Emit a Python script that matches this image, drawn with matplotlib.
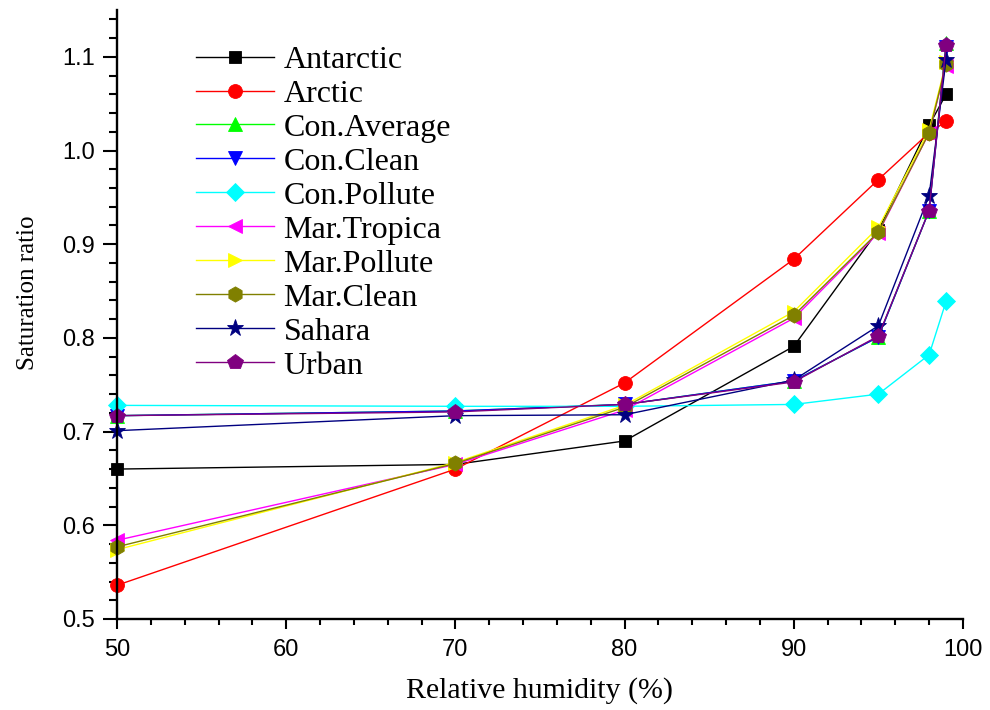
#!/usr/bin/env python
from __future__ import annotations

from pathlib import Path

import matplotlib

matplotlib.use("Agg")
import matplotlib.pyplot as plt
from matplotlib.ticker import FormatStrFormatter, MultipleLocator

# relative humidity (%) sampled for every aerosol type
HUMIDITY = [50, 70, 80, 90, 95, 98, 99]

ANTARCTIC = [0.660, 0.665, 0.690, 0.791, 0.915, 1.027, 1.060]
ARCTIC = [0.536, 0.660, 0.752, 0.884, 0.969, 1.019, 1.031]
CON_AVERAGE = [0.717, 0.722, 0.729, 0.754, 0.801, 0.936, 1.115]
CON_CLEAN = [0.717, 0.722, 0.729, 0.754, 0.801, 0.936, 1.111]
CON_POLLUTE = [0.728, 0.727, 0.727, 0.729, 0.740, 0.782, 0.839]
MAR_TROPICA = [0.584, 0.665, 0.723, 0.821, 0.912, 1.019, 1.090]
MAR_POLLUTE = [0.574, 0.667, 0.728, 0.828, 0.918, 1.022, 1.094]
MAR_CLEAN = [0.577, 0.666, 0.726, 0.824, 0.913, 1.019, 1.092]
SAHARA = [0.701, 0.717, 0.718, 0.755, 0.813, 0.952, 1.097]
URBAN = [0.717, 0.721, 0.729, 0.753, 0.802, 0.936, 1.113]

SERIES_NAMES = [
    "Antarctic",
    "Arctic",
    "Con.Average",
    "Con.Clean",
    "Con.Pollute",
    "Mar.Tropica",
    "Mar.Pollute",
    "Mar.Clean",
    "Sahara",
    "Urban",
]
SERIES_VALUES = [
    ANTARCTIC,
    ARCTIC,
    CON_AVERAGE,
    CON_CLEAN,
    CON_POLLUTE,
    MAR_TROPICA,
    MAR_POLLUTE,
    MAR_CLEAN,
    SAHARA,
    URBAN,
]

# (colour, marker, markersize) per series, Origin-like defaults
STYLES = [
    ("#000000", "s", 8.5),
    ("#ff0000", "o", 10.0),
    ("#00ff00", "^", 10.5),
    ("#0000ff", "v", 10.5),
    ("#00ffff", "D", 9.0),
    ("#ff00ff", "<", 10.5),
    ("#ffff00", ">", 10.5),
    ("#808000", "h", 11.0),
    ("#000080", "*", 12.5),
    ("#800080", "p", 11.5),
]

SERIF = ["Liberation Serif", "DejaVu Serif"]
SANS = ["Liberation Sans", "DejaVu Sans"]


def main() -> int:
    fig = plt.figure(figsize=(9.9, 7.1), dpi=100)
    ax = fig.add_axes([0.1182, 0.1282, 0.8545, 0.8577])

    for name, values, (color, marker, size) in zip(SERIES_NAMES, SERIES_VALUES, STYLES):
        ax.plot(
            HUMIDITY,
            values,
            color=color,
            linewidth=1.0,
            marker=marker,
            markersize=size,
            markerfacecolor=color,
            markeredgecolor=color,
            markeredgewidth=0.6,
            label=name,
            clip_on=False,
        )

    ax.set_xlim(50, 100)
    ax.set_ylim(0.5, 1.15)
    ax.xaxis.set_major_locator(MultipleLocator(10))
    ax.xaxis.set_minor_locator(MultipleLocator(2))
    ax.yaxis.set_major_locator(MultipleLocator(0.1))
    ax.yaxis.set_minor_locator(MultipleLocator(0.02))
    ax.yaxis.set_major_formatter(FormatStrFormatter("%.1f"))

    for side in ("top", "right"):
        ax.spines[side].set_visible(False)
    for side in ("left", "bottom"):
        ax.spines[side].set_linewidth(1.7)

    ax.tick_params(axis="x", which="major", direction="out", length=7.5, width=1.5, pad=7)
    ax.tick_params(axis="x", which="minor", direction="out", length=4, width=1.5)
    ax.tick_params(axis="y", which="major", direction="out", length=10, width=1.5, pad=6)
    ax.tick_params(axis="y", which="minor", direction="out", length=5.5, width=1.5)
    for label in ax.get_xticklabels() + ax.get_yticklabels():
        label.set_fontfamily(SANS)
        label.set_fontsize(17)

    ax.set_xlabel("Relative humidity (%)", fontsize=21.5, family=SERIF)
    ax.set_ylabel("Saturation ratio", fontsize=18, family=SERIF)
    ax.xaxis.set_label_coords(0.5, -0.095)
    ax.yaxis.set_label_coords(-0.092, 0.535)

    ax.legend(
        loc="upper left",
        bbox_to_anchor=(0.093, 0.942),
        frameon=False,
        prop={"family": SERIF, "size": 23},
        handlelength=2.45,
        handletextpad=0.3,
        labelspacing=0.145,
        borderaxespad=0.0,
        borderpad=0.0,
    )

    output_path = Path("out.png")
    fig.savefig(output_path, dpi=100)
    plt.close(fig)
    return 0


if __name__ == "__main__":
    raise SystemExit(main())
